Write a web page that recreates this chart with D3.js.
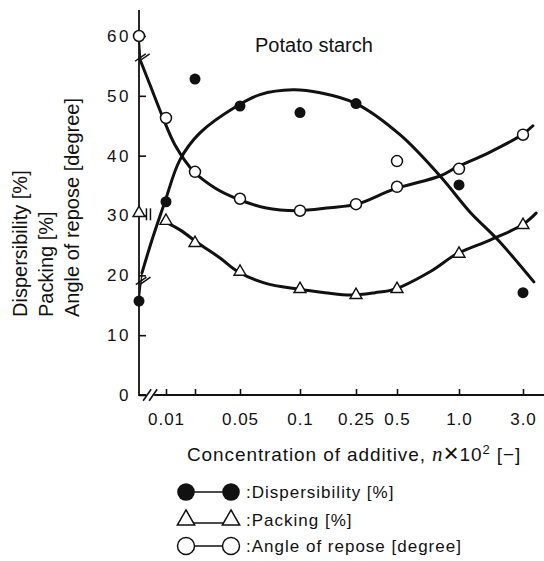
<!DOCTYPE html>
<html>
<head>
<meta charset="utf-8">
<script src="https://cdn.jsdelivr.net/npm/d3@7"></script>
<style>
  body { margin: 0; background: #fff; }
  svg { display: block; }
  text { font-family: "Liberation Sans", Arial, Helvetica, sans-serif; fill: #111; }
</style>
</head>
<body>
<svg id="chart" width="544" height="561"></svg>
<script>
// ---- data -------------------------------------------------------------
// concentration of additive, n x 10^2 (0 = untreated potato starch)
const concentrations = [0, 0.01, 0.02, 0.05, 0.1, 0.25, 0.5, 1.0, 3.0];
const dispersibility = [15.7, 32.3, 52.8, 48.3, 47.2, 48.7, null, 35.1, 17.1];
const packing        = [30.4, 29.1, 25.4, 20.6, 17.7, 16.7, 17.7, 23.6, 28.4];
const angleOfRepose  = [60.0, 46.3, 37.3, 32.8, 30.8, 31.9, 34.8, 37.8, 43.5];
// second angle-of-repose measurement at n x 10^2 = 0.5
const angleOfReposeRepeat = [[0.5, 39.1]];

// smoothed trend curves, [concentration, value]
const dispersibilityCurve = [
  [0.0011, 20.4], [0.0048, 25.9], [0.0096, 32.3], [0.0148, 39.3], [0.0233, 43.8],
  [0.048, 48.3], [0.0667, 50.2], [0.094, 51.0], [0.154, 50.5], [0.25, 48.7],
  [0.524, 43.5], [0.847, 36.6], [1.34, 30.6], [2.22, 25.9], [3.34, 18.9]
];
const angleOfReposeCurve = [
  [0.0007, 55.7], [0.0041, 51.8], [0.0089, 46.3], [0.0131, 41.8], [0.0197, 37.3],
  [0.0333, 34.6], [0.048, 32.8], [0.0708, 31.3], [0.0975, 30.8], [0.18, 31.3],
  [0.256, 31.9], [0.482, 34.4], [0.847, 36.6], [0.976, 38.0], [1.97, 40.6],
  [2.97, 43.5], [3.31, 45.0]
];
const packingCurve = [
  [0.0089, 29.1], [0.0148, 27.6], [0.022, 25.4], [0.0367, 22.9], [0.0487, 20.6],
  [0.0708, 18.7], [0.098, 17.7], [0.167, 17.1], [0.236, 16.7], [0.366, 17.1],
  [0.488, 17.7], [0.766, 20.6], [0.984, 23.6], [1.97, 25.9], [2.97, 28.4], [3.41, 30.4]
];

const xTicks = [0.01, 0.02, 0.05, 0.1, 0.25, 0.5, 1.0, 3.0];
const xTickLabels = ["0.01", "", "0.05", "0.1", "0.25", "0.5", "1.0", "3.0"];
const yTicks = [0, 10, 20, 30, 40, 50, 60];

// ---- layout -----------------------------------------------------------
const W = 544, H = 561;
const axisX = 139, axisBottom = 395, axisTop = 36;
// the concentration axis is drawn on an uneven, hand-spaced grid
const xStops = [139, 166, 195, 240, 300, 356, 397, 459, 523];

const svg = d3.select("#chart");

const x = d3.scaleLinear().domain(concentrations).range(xStops);
const y = d3.scaleLinear().domain([0, 60]).range([axisBottom, axisTop]);

// ---- axes -------------------------------------------------------------
const yAxis = d3.axisLeft(y)
  .tickValues(yTicks)
  .tickSizeInner(-7)
  .tickSizeOuter(0)
  .tickPadding(8);

const gy = svg.append("g")
  .attr("transform", `translate(${axisX},0)`)
  .call(yAxis);
gy.select(".domain").remove();
gy.selectAll(".tick line").attr("stroke", "#111").attr("stroke-width", 1.6);
gy.selectAll(".tick text")
  .attr("font-size", 17)
  .attr("letter-spacing", 2.5)
  .attr("fill", "#111");

svg.append("line")
  .attr("x1", axisX).attr("x2", axisX)
  .attr("y1", axisBottom + 1).attr("y2", 10)
  .attr("stroke", "#111").attr("stroke-width", 1.8);

const xAxis = d3.axisBottom(x)
  .tickValues(xTicks)
  .tickFormat((d, i) => xTickLabels[i])
  .tickSizeInner(-6)
  .tickSizeOuter(0)
  .tickPadding(18);

const gx = svg.append("g")
  .attr("transform", `translate(0,${axisBottom})`)
  .call(xAxis);
gx.select(".domain").remove();
gx.selectAll(".tick line").attr("stroke", "#111").attr("stroke-width", 1.6);
gx.selectAll(".tick text")
  .attr("font-size", 17)
  .attr("letter-spacing", 1)
  .attr("fill", "#111");

// x axis line with a break just after the origin
const xb = x(0.0045);
svg.append("path")
  .attr("d", `M${axisX},${axisBottom}H${xb - 5}M${xb + 3},${axisBottom}H${W}`)
  .attr("fill", "none").attr("stroke", "#111").attr("stroke-width", 1.8);

function breakMark(cx, cy, angleDeg, len, gap, width) {
  const a = angleDeg * Math.PI / 180;
  const dx = Math.cos(a) * len / 2, dy = -Math.sin(a) * len / 2;
  [-gap / 2, gap / 2].forEach(o => {
    svg.append("line")
      .attr("x1", cx + o - dx).attr("y1", cy - dy)
      .attr("x2", cx + o + dx).attr("y2", cy + dy)
      .attr("stroke", "#111").attr("stroke-width", width);
  });
}
breakMark(xb - 1, axisBottom, 55, 14, 6, 1.6);

// titles
svg.append("text")
  .attr("x", 255).attr("y", 52)
  .attr("font-size", 20)
  .text("Potato starch");

const yTitle = ["Dispersibility [%]", "Packing [%]", "Angle of repose [degree]"];
const yTitleX = [27, 53, 79];
yTitle.forEach((t, i) => {
  svg.append("text")
    .attr("transform", `translate(${yTitleX[i]},317) rotate(-90)`)
    .attr("font-size", 20)
    .text(t);
});

const xt = svg.append("text")
  .attr("x", 187).attr("y", 461)
  .attr("font-size", 19)
  .attr("letter-spacing", 0.9);
xt.append("tspan").text("Concentration of additive, ");
xt.append("tspan").attr("font-family", "'Liberation Serif', 'DejaVu Serif', serif")
  .attr("font-style", "italic").attr("font-size", 21).text("n");
xt.append("tspan").attr("font-size", 26).attr("font-weight", 300).attr("dy", 1).text("×");
xt.append("tspan").attr("dy", -1).text("10");
xt.append("tspan").attr("font-size", 13).attr("dy", -7).text("2");
xt.append("tspan").attr("dy", 7).text(" [−]");

// ---- curves -----------------------------------------------------------
const line = d3.line()
  .x(d => x(d[0]))
  .y(d => y(d[1]))
  .curve(d3.curveCatmullRom.alpha(0.5));

[dispersibilityCurve, angleOfReposeCurve, packingCurve].forEach(c => {
  svg.append("path")
    .attr("d", line(c))
    .attr("fill", "none")
    .attr("stroke", "#111")
    .attr("stroke-width", 3)
    .attr("stroke-linecap", "round");
});

// thin connectors from the untreated values to the start of the curves
function connector(curve, value) {
  const p0 = [x(0), y(value)], p1 = [x(curve[0][0]), y(curve[0][1])];
  svg.append("line")
    .attr("x1", p0[0]).attr("y1", p0[1]).attr("x2", p1[0]).attr("y2", p1[1])
    .attr("stroke", "#111").attr("stroke-width", 1.4);
  return [p0[0] + (p1[0] - p0[0]) * 0.72 + 2, p0[1] + (p1[1] - p0[1]) * 0.72];
}
let bp = connector(dispersibilityCurve, dispersibility[0]);
breakMark(bp[0], bp[1], 35, 13, 4, 1.5);
bp = connector(angleOfReposeCurve, angleOfRepose[0]);
breakMark(bp[0], bp[1] + 3, 35, 13, 4, 1.5);
// packing: break bars between the untreated value and the curve
const pbx = x(0.0035), pby = y(packing[0] - 0.2);
breakMark(pbx, pby, 90, 12, 4, 1.5);

// ---- markers ----------------------------------------------------------
const pts = (vals) => concentrations.map((c, i) => [c, vals[i]]).filter(d => d[1] != null);

svg.append("g").selectAll("circle")
  .data(pts(dispersibility))
  .join("circle")
  .attr("cx", d => x(d[0])).attr("cy", d => y(d[1]))
  .attr("r", 5.5).attr("fill", "#111");

svg.append("g").selectAll("circle")
  .data(pts(angleOfRepose).concat(angleOfReposeRepeat))
  .join("circle")
  .attr("cx", d => x(d[0])).attr("cy", d => y(d[1]))
  .attr("r", 5.5).attr("fill", "#fff").attr("stroke", "#111").attr("stroke-width", 1.5);

const tri = d3.symbol().type(d3.symbolTriangle).size(62);
svg.append("g").selectAll("path")
  .data(pts(packing))
  .join("path")
  .attr("d", tri)
  .attr("transform", d => `translate(${x(d[0])},${y(d[1])})`)
  .attr("fill", "#fff").attr("stroke", "#111").attr("stroke-width", 1.4);

// ---- legend -----------------------------------------------------------
const legendItems = [
  { label: ":Dispersibility [%]", kind: "filled" },
  { label: ":Packing [%]", kind: "triangle" },
  { label: ":Angle of repose [degree]", kind: "open" }
];
const legY = [492, 520, 546];
const lx1 = 186, lx2 = 231, ltx = 246;
const legTri = d3.symbol().type(d3.symbolTriangle).size(130);
legendItems.forEach((it, i) => {
  const g = svg.append("g").attr("transform", `translate(0,${legY[i]})`);
  g.append("line").attr("x1", lx1).attr("x2", lx2).attr("y1", it.kind === "triangle" ? 3 : 0)
    .attr("y2", it.kind === "triangle" ? 3 : 0)
    .attr("stroke", "#111").attr("stroke-width", 1.4);
  [lx1, lx2].forEach(cx => {
    if (it.kind === "filled") {
      g.append("circle").attr("cx", cx).attr("cy", 0).attr("r", 8.8).attr("fill", "#111");
    } else if (it.kind === "open") {
      g.append("circle").attr("cx", cx).attr("cy", 0).attr("r", 8.5)
        .attr("fill", "#fff").attr("stroke", "#111").attr("stroke-width", 1.5);
    } else {
      g.append("path").attr("d", legTri).attr("transform", `translate(${cx},0)`)
        .attr("fill", "#fff").attr("stroke", "#111").attr("stroke-width", 1.5);
    }
  });
  g.append("text").attr("x", ltx).attr("y", 6)
    .attr("font-size", 17).attr("letter-spacing", 1)
    .text(it.label);
});
</script>
</body>
</html>
